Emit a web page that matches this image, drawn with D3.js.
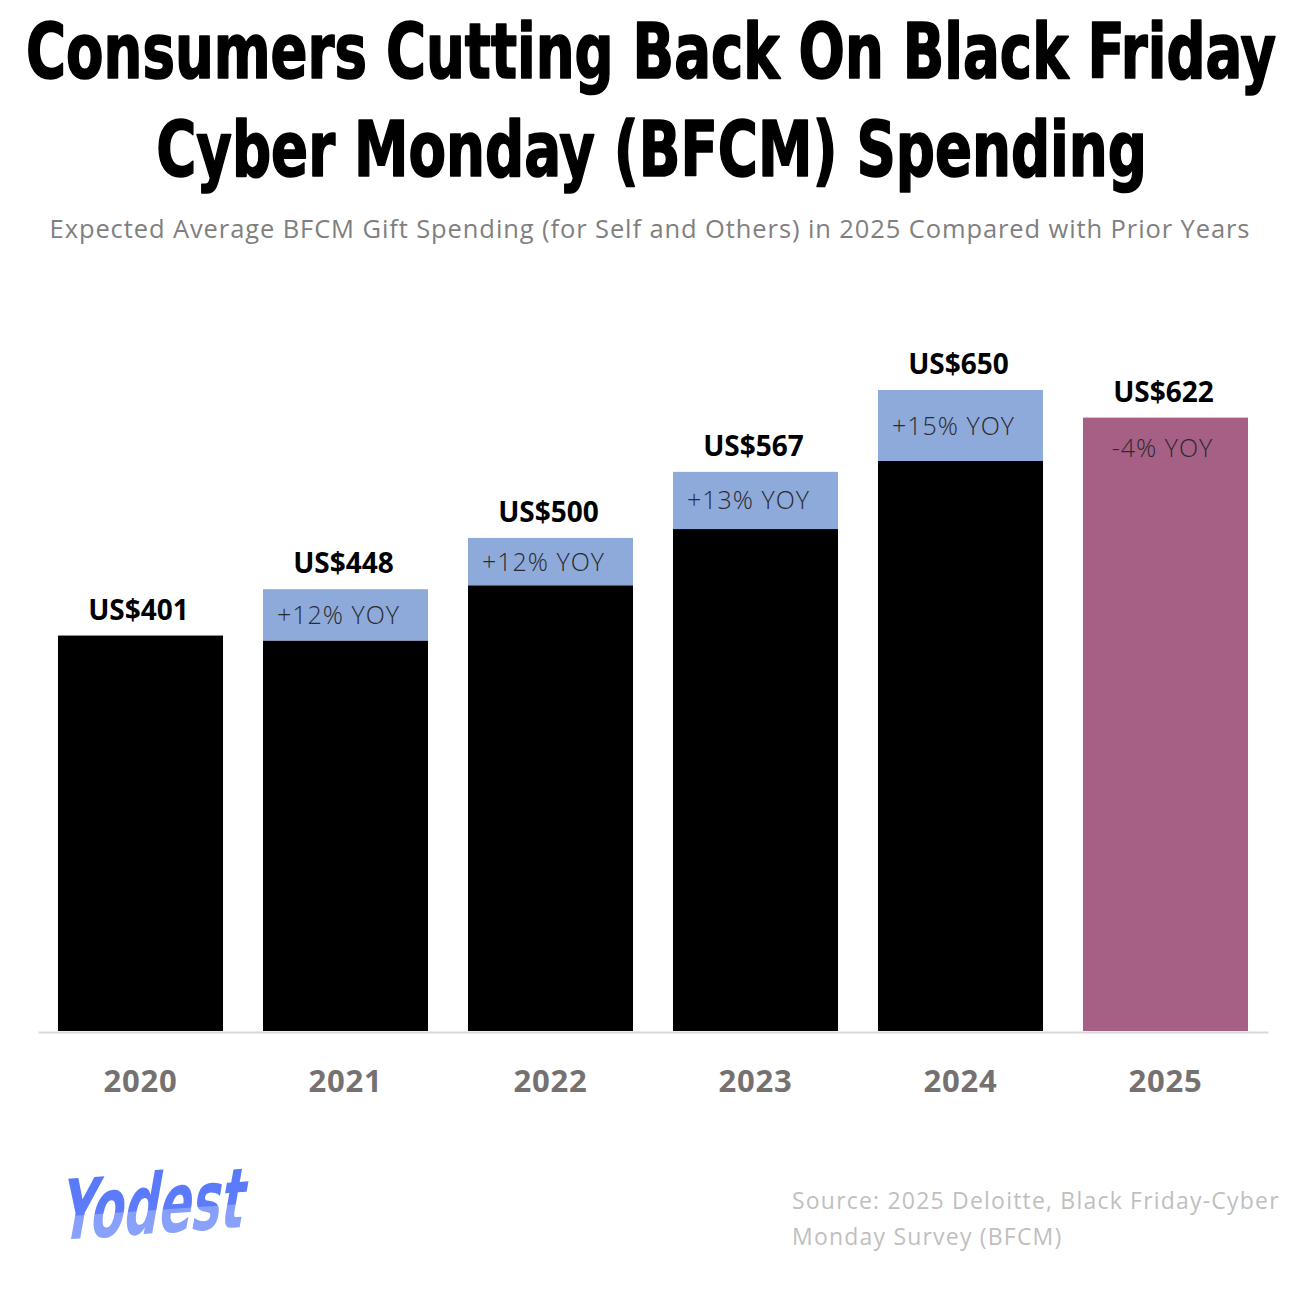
<!DOCTYPE html>
<html>
<head>
<meta charset="utf-8">
<script src="https://cdn.jsdelivr.net/npm/d3@7"></script>
<style>
  body { margin: 0; background: #fff; }
</style>
</head>
<body>
<div id="chart"></div>
<script>
////////// data //////////
var years      = ["2020", "2021", "2022", "2023", "2024", "2025"],
    totals     = [401, 448, 500, 567, 650, 622],        // expected spend, US$
    baseValues = [401, 396, 452, 509, 578, 622],        // top of the black part
    yoyLabels  = ["", "+12% YOY", "+12% YOY", "+13% YOY", "+15% YOY", "-4% YOY"];

var width  = 1299,
    height = 1299;

var black = "#000000",
    blue  = "#8eaadb",
    mauve = "#a66086";

var svg = d3.select("#chart").append("svg")
    .attr("width", width)
    .attr("height", height);

// ====================== scales ======================
var x = d3.scaleBand()
    .domain(years)
    .range([38, 1268])
    .paddingInner(0.195)
    .paddingOuter(0.0975);

var y = d3.scaleLinear()
    .domain([0, 650])
    .range([1031, 390]);

var rows = years.map((d, i) => ({year: d, total: totals[i], base: baseValues[i], yoy: yoyLabels[i]}));
var isLast = (d) => d.year == "2025";

// ====================== titles ======================
var titleFont = "'DejaVu Sans Condensed', 'DejaVu Sans', sans-serif";

// squeeze a line of text so it spans a given width, centred on cx
function squeezedText(parent, str, cx, baseline, size, targetWidth){
    var g = parent.append("g");
    var t = g.append("text")
        .text(str)
        .attr("text-anchor", "middle")
        .attr("font-family", titleFont)
        .attr("font-weight", "bold")
        .attr("font-size", size)
        .attr("stroke", "#000")
        .attr("stroke-width", 1.6)
        .attr("stroke-linejoin", "round");
    var natural = t.node().getComputedTextLength();
    g.attr("transform", "translate(" + cx + "," + baseline + ") scale(" + (targetWidth / natural) + ",1)");
    return t;
}

squeezedText(svg, "Consumers Cutting Back On Black Friday", 651, 78, 76, 1250);
squeezedText(svg, "Cyber Monday (BFCM) Spending", 651.5, 176, 76, 991);

svg.append("text")
    .text("Expected Average BFCM Gift Spending (for Self and Others) in 2025 Compared with Prior Years")
    .attr("x", 650)
    .attr("y", 238)
    .attr("text-anchor", "middle")
    .attr("font-family", "'Open Sans', sans-serif")
    .attr("font-size", 25.5)
    .attr("letter-spacing", 0.9)
    .attr("fill", "#7f7f7f");

// ====================== bars ======================
var bar = svg.append("g").selectAll("g")
    .data(rows).enter()
    .append("g");

// black part (or the whole mauve bar for 2025)
bar.append("rect")
    .attr("x", d => x(d.year))
    .attr("width", x.bandwidth())
    .attr("y", d => y(d.base))
    .attr("height", d => y(0) - y(d.base))
    .attr("fill", d => isLast(d) ? mauve : black);

// blue increase on top
bar.filter(d => d.total > d.base)
    .append("rect")
    .attr("x", d => x(d.year))
    .attr("width", x.bandwidth())
    .attr("y", d => y(d.total))
    .attr("height", d => y(d.base) - y(d.total))
    .attr("fill", blue);

// value labels
bar.append("text")
    .text(d => "US$" + d.total)
    .attr("x", d => x(d.year) + x.bandwidth() / 2 - 2)
    .attr("y", d => y(d.total) - 16)
    .attr("text-anchor", "middle")
    .attr("font-family", "'Open Sans', sans-serif")
    .attr("font-weight", "bold")
    .attr("font-size", 28)
    .attr("fill", "#000");

// YOY labels, centred in the blue part; 2025 sits near the top of its bar
bar.filter(d => d.yoy != "")
    .append("text")
    .text(d => d.yoy)
    .attr("x", d => x(d.year) + x.bandwidth() / 2 - (isLast(d) ? 3 : 7))
    .attr("y", d => isLast(d) ? y(d.total) + 39 : (y(d.total) + y(d.base)) / 2 + 9)
    .attr("text-anchor", "middle")
    .attr("font-family", "'Open Sans', sans-serif")
    .attr("font-weight", 300)
    .attr("font-size", 25)
    .attr("letter-spacing", 1)
    .attr("fill", "#2b2b2b");

// ====================== x axis ======================
var xAxis = svg.append("g")
    .attr("transform", "translate(0," + (y(0) + 1) + ")")
    .call(d3.axisBottom(x).tickSize(0).tickPadding(38));

xAxis.select(".domain")
    .attr("stroke", "#d9d9d9")
    .attr("stroke-width", 2);

xAxis.selectAll("text")
    .attr("font-family", "'Open Sans', sans-serif")
    .attr("font-weight", "bold")
    .attr("font-size", 31)
    .attr("letter-spacing", 0.8)
    .attr("fill", "#767171");

// ====================== logo + source ======================
var defs = svg.append("defs");
var grad = defs.append("linearGradient")
    .attr("id", "logoGrad")
    .attr("x1", 0).attr("y1", 0).attr("x2", 0).attr("y2", 1);
grad.append("stop").attr("offset", "0%").attr("stop-color", "#5878fb");
grad.append("stop").attr("offset", "55%").attr("stop-color", "#5c7cfb");
grad.append("stop").attr("offset", "56%").attr("stop-color", "#869ffb");
grad.append("stop").attr("offset", "100%").attr("stop-color", "#8ca4fb");

var logo = svg.append("g")
    .append("text")
    .text("Yodest")
    .attr("font-family", titleFont)
    .attr("font-weight", "bold")
    .attr("font-size", 60)
    .attr("fill", "url(#logoGrad)");
var logoW = logo.node().getComputedTextLength();
d3.select(logo.node().parentNode)
    .attr("transform", "translate(58,1240) rotate(-4) skewX(-14) scale(" + (184 / logoW) + ",1.38)");

var source = svg.append("text")
    .attr("font-family", "'Open Sans', sans-serif")
    .attr("font-size", 23)
    .attr("letter-spacing", 1.2)
    .attr("fill", "#bfbfbf");

source.append("tspan")
    .attr("x", 792)
    .attr("y", 1209)
    .text("Source: 2025 Deloitte, Black Friday-Cyber");

source.append("tspan")
    .attr("x", 792)
    .attr("y", 1245)
    .text("Monday Survey (BFCM)");
</script>
</body>
</html>
